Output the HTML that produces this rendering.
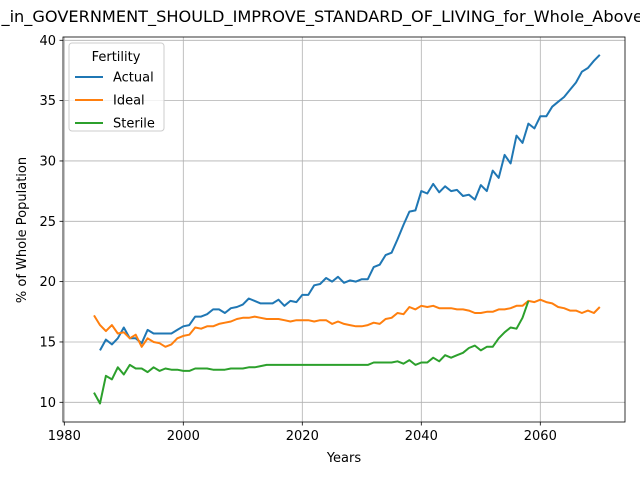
<!DOCTYPE html>
<html><head><meta charset="utf-8"><style>body{margin:0;background:#fff}svg{display:block;font-family:"DejaVu Sans","Liberation Sans",sans-serif}</style></head>
<body>
<svg id="c" width="640" height="480"></svg>
<script>
const actualYears=[1986,2070];
const actual=[14.3,15.2,14.8,15.3,16.2,15.3,15.3,14.9,16.0,15.7,15.7,15.7,15.7,16.0,16.3,16.4,17.1,17.1,17.3,17.7,17.7,17.4,17.8,17.9,18.1,18.6,18.4,18.2,18.2,18.2,18.5,18.0,18.4,18.3,18.9,18.9,19.7,19.8,20.3,20.0,20.4,19.9,20.1,20.0,20.2,20.2,21.2,21.4,22.2,22.4,23.5,24.7,25.8,25.9,27.5,27.3,28.1,27.4,27.9,27.5,27.6,27.1,27.2,26.8,28.0,27.5,29.2,28.6,30.5,29.8,32.1,31.5,33.1,32.7,33.7,33.7,34.5,34.9,35.3,35.9,36.5,37.4,37.7,38.3,38.8];
const idealStart=1985;
const ideal=[17.2,16.4,15.9,16.4,15.7,15.8,15.3,15.6,14.6,15.3,15.0,14.9,14.6,14.8,15.3,15.5,15.6,16.2,16.1,16.3,16.3,16.5,16.6,16.7,16.9,17.0,17.0,17.1,17.0,16.9,16.9,16.9,16.8,16.7,16.8,16.8,16.8,16.7,16.8,16.8,16.5,16.7,16.5,16.4,16.3,16.3,16.4,16.6,16.5,16.9,17.0,17.4,17.3,17.9,17.7,18.0,17.9,18.0,17.8,17.8,17.8,17.7,17.7,17.6,17.4,17.4,17.5,17.5,17.7,17.7,17.8,18.0,18.0,18.4,18.3,18.5,18.3,18.2,17.9,17.8,17.6,17.6,17.4,17.6,17.4,17.9];
const sterileStart=1985;
const sterile=[10.8,9.9,12.2,11.9,12.9,12.3,13.1,12.8,12.8,12.5,12.9,12.6,12.8,12.7,12.7,12.6,12.6,12.8,12.8,12.8,12.7,12.7,12.7,12.8,12.8,12.8,12.9,12.9,13.0,13.1,13.1,13.1,13.1,13.1,13.1,13.1,13.1,13.1,13.1,13.1,13.1,13.1,13.1,13.1,13.1,13.1,13.1,13.3,13.3,13.3,13.3,13.4,13.2,13.5,13.1,13.3,13.3,13.7,13.4,13.9,13.7,13.9,14.1,14.5,14.7,14.3,14.6,14.6,15.3,15.8,16.2,16.1,17.0,18.4];
const xTicks=[1980,2000,2020,2040,2060];
const yTicks=[10,15,20,25,30,35,40];
const L=63,R=625,T=37,B=422;
const X=v=>64.3+(v-1980)*5.95;
const Y=v=>402.3-(v-10)*12.067;
const s=document.getElementById('c');const NS='http://www.w3.org/2000/svg';
function mk(t,a,p){const e=document.createElementNS(NS,t);for(const k in a)e.setAttribute(k,a[k]);(p||s).appendChild(e);return e;}
const title=mk('text',{x:-3,y:22,'font-size':16,textLength:646,lengthAdjust:'spacingAndGlyphs'});title.textContent='l_in_GOVERNMENT_SHOULD_IMPROVE_STANDARD_OF_LIVING_for_Whole_Above';


xTicks.forEach(v=>{const g=mk('line',{x1:X(v),x2:X(v),y1:T,y2:B,stroke:'#b0b0b0','stroke-width':0.8});


mk('line',{x1:X(v),x2:X(v),y1:B,y2:B+3.5,stroke:'#000','stroke-width':0.8});
const t=mk('text',{x:X(v),y:B+18,'font-size':13,'text-anchor':'middle'});t.textContent=v;

});
yTicks.forEach(v=>{const g=mk('line',{x1:L,x2:R,y1:Y(v),y2:Y(v),stroke:'#b0b0b0','stroke-width':0.8});


mk('line',{x1:L-3.5,x2:L,y1:Y(v),y2:Y(v),stroke:'#000','stroke-width':0.8});
const t=mk('text',{x:L-7,y:Y(v)+4.5,'font-size':13,'text-anchor':'end'});t.textContent=v;

});
function series(start,vals,col,name){const p=vals.map((v,i)=>X(start+i).toFixed(1)+','+Y(v).toFixed(1)).join(' ');
const e=mk('polyline',{points:p,fill:'none',stroke:col,'stroke-width':2,'stroke-linejoin':'round'});

}
series(actualYears[0],actual,'#1f77b4','actual-line');
series(idealStart,ideal,'#ff7f0e','ideal-line');
series(sterileStart,sterile,'#2ca02c','sterile-line');
const fr=mk('rect',{x:L,y:T,width:R-L,height:B-T,fill:'none',stroke:'#000','stroke-width':0.8});


const xl=mk('text',{x:344,y:462,'font-size':13,'text-anchor':'middle'});xl.textContent='Years';


const yl=mk('text',{x:26,y:230,'font-size':13,'text-anchor':'middle',transform:'rotate(-90 26 230)'});yl.textContent='% of Whole Population';


const lg=mk('g',{});


mk('rect',{x:69,y:43,width:95,height:88,rx:3,fill:'#fff','fill-opacity':0.8,stroke:'#ccc'},lg);
const lt=mk('text',{x:116,y:61,'font-size':13,'text-anchor':'middle'},lg);lt.textContent='Fertility';
[['Actual','#1f77b4'],['Ideal','#ff7f0e'],['Sterile','#2ca02c']].forEach((d,i)=>{const y=77+i*23;
const g=mk('g',{},lg);


mk('line',{x1:75,x2:103,y1:y,y2:y,stroke:d[1],'stroke-width':2},g);
const t=mk('text',{x:113,y:y+4.5,'font-size':13},g);t.textContent=d[0];});
</script>
</body></html>
